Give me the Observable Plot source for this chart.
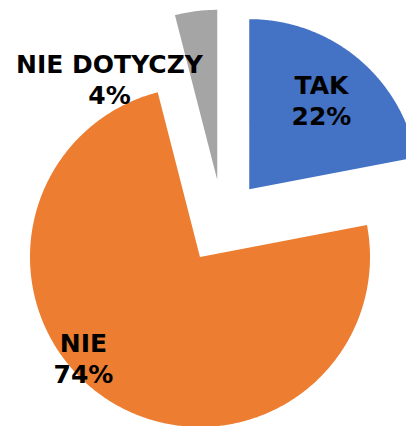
<!DOCTYPE html>
<html><head><meta charset="utf-8">
<script src="https://cdn.jsdelivr.net/npm/d3@7"></script>
<script src="https://cdn.jsdelivr.net/npm/@observablehq/plot@0.6"></script>
<style>html,body{margin:0;padding:0;background:#fff;}</style>
</head><body><div id="chart"></div>
<script>
const categories = ["TAK", "NIE", "NIE DOTYCZY"];
const values = [22, 74, 4];
const colors = ["#4472C4", "#ED7D31", "#A5A5A5"];

const W = 406, H = 426, CX = 222, CY = 221, R = 170, EXPLODE = 42;
const arcs = d3.pie().sort(null)(values);
const pts = [];
arcs.forEach((a, i) => {
  const m = (a.startAngle + a.endAngle) / 2;
  const ox = EXPLODE * Math.sin(m), oy = EXPLODE * Math.cos(m);
  const name = categories[i];
  pts.push({name, x: ox, y: oy});
  const n = Math.max(2, Math.ceil((a.endAngle - a.startAngle) / (Math.PI / 360)));
  for (let k = 0; k <= n; k++) {
    const t = a.startAngle + (a.endAngle - a.startAngle) * k / n;
    pts.push({name, x: ox + R * Math.sin(t), y: oy + R * Math.cos(t)});
  }
  pts.push({name, x: ox, y: oy});
});

// label anchors in page pixels (block centres)
const labelLayout = [[321, 99], [83, 357], [109, 78]];
const labels = categories.map((c, i) => ({
  text: `${c}\n${values[i]}%`,
  x: labelLayout[i][0] - CX,
  y: CY - labelLayout[i][1]
}));

const chart = Plot.plot({
  width: W, height: H, margin: 0,
  x: {domain: [-CX, W - CX], axis: null},
  y: {domain: [-(H - CY), CY], axis: null},
  color: {domain: categories, range: colors},
  style: {background: "#fff"},
  marks: [
    Plot.line(pts, {x: "x", y: "y", z: "name", fill: "name", stroke: "none", curve: "linear"}),
    Plot.text(labels, {x: "x", y: "y", text: "text", fill: "#000", fontSize: 25, fontWeight: "bold",
      fontFamily: "DejaVu Sans", textAnchor: "middle", lineAnchor: "middle", lineHeight: 31/25})
  ]
});
document.getElementById("chart").appendChild(chart);
</script>
</body></html>
